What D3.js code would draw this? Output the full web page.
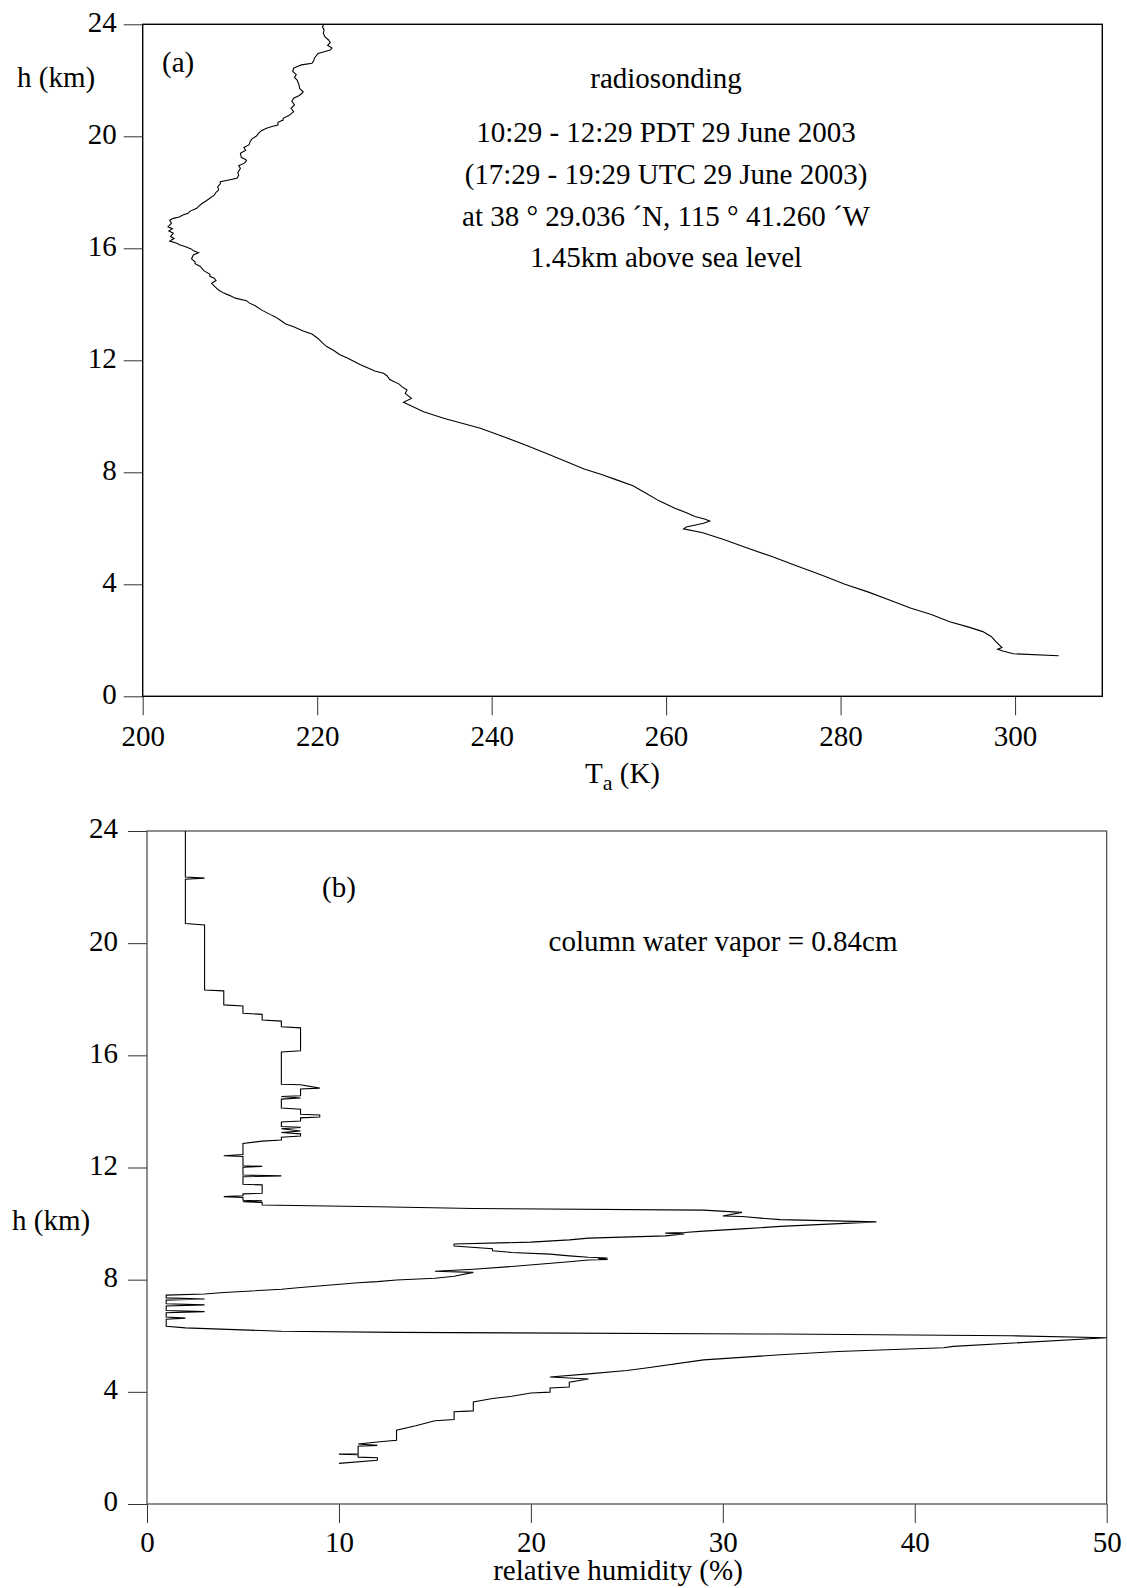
<!DOCTYPE html>
<html lang="en">
<head>
<meta charset="utf-8">
<title>Radiosonde profile, 29 June 2003</title>
<script src="https://d3js.org/d3.v7.min.js"></script>
<style>
  body { margin: 0; background: #fff; }
  svg { display: block; background: #fff; }
  text { font-family: "Liberation Serif", "Times New Roman", serif; fill: #000; }
</style>
</head>
<body>
<svg width="1127" height="1588"></svg>
<script>

// panel (a): air temperature (K) against height (km), bottom to top
var taK = [305.0, 299.8, 298.6, 298.0, 298.5, 297.8, 297.3, 296.3, 294.6, 292.5,
           290.4, 288.0, 285.6, 283.2, 280.5, 277.8, 275.0, 272.2, 269.3, 266.6,
           264.2, 262.0, 262.3, 264.3, 265.0, 264.4, 263.3, 262.4, 261.0, 259.2,
           257.6, 256.2, 254.4, 252.6, 250.6, 248.6, 246.3, 243.8, 241.3, 238.7,
           236.6, 234.5, 232.2,
           229.9, 230.8, 230.1, 230.3, 229.7, 229.4, 228.7, 228.3, 228.0, 227.6,
           226.6, 225.7, 224.9, 224.3, 223.4, 222.6, 221.9, 221.1, 220.6, 220.1,
           219.4, 218.4, 217.3, 216.4, 215.7, 215.2, 214.6, 213.6, 212.9, 212.2,
           211.9, 210.6, 210.0, 209.3, 208.7, 208.3, 207.9, 208.4, 208.2, 207.7,
           207.7, 207.0, 206.6, 206.0, 206.0, 205.6, 205.8, 206.4, 205.9, 205.6,
           205.0, 204.3, 203.9, 203.1, 203.6, 203.2, 203.5, 203.0, 203.4, 202.9,
           203.3, 203.1, 203.5, 204.2, 204.6, 205.2, 205.4, 206.2, 206.4, 206.8,
           207.3, 207.7, 208.2, 208.4, 208.7, 208.6, 208.9, 208.9, 210.0, 210.8,
           211.0, 210.9, 211.2, 211.0, 211.7, 211.9, 211.3, 211.2, 211.8, 211.6,
           212.2, 212.3, 212.5, 213.0, 213.3, 213.6, 214.2, 214.8, 215.5, 215.5,
           216.1, 216.1, 216.8, 217.3, 217.0, 217.4, 217.1, 217.3, 217.9, 218.2,
           218.4, 218.0, 217.9, 217.7, 217.4, 217.6, 217.2, 217.3, 217.8, 218.2,
           219.4, 219.6, 219.7, 220.1, 220.8, 221.5, 221.7, 221.2, 221.5, 221.3,
           220.9, 220.7, 220.8, 220.6, 220.8];
var taH = [1.45, 1.52, 1.62, 1.68, 1.74, 1.95, 2.13, 2.31, 2.48, 2.66,
           2.92, 3.15, 3.44, 3.72, 4.00, 4.33, 4.65, 4.98, 5.30, 5.60,
           5.84, 5.98, 6.05, 6.18, 6.26, 6.33, 6.42, 6.55, 6.72, 6.98,
           7.27, 7.52, 7.72, 7.92, 8.12, 8.38, 8.67, 8.98, 9.28, 9.57,
           9.75, 9.93, 10.16,
           10.50, 10.64, 10.82, 10.94, 11.06, 11.15, 11.25, 11.32, 11.45, 11.54,
           11.62, 11.74, 11.85, 11.95, 12.09, 12.20, 12.35, 12.49, 12.62, 12.78,
           12.94, 13.05, 13.20, 13.30, 13.45, 13.55, 13.64, 13.80, 13.95, 14.05,
           14.13, 14.22, 14.31, 14.40, 14.51, 14.62, 14.75, 14.85, 14.93, 15.00,
           15.07, 15.20, 15.35, 15.45, 15.52, 15.62, 15.76, 15.84, 15.90, 15.97,
           16.05, 16.12, 16.18, 16.26, 16.35, 16.42, 16.54, 16.62, 16.70, 16.77,
           16.90, 17.00, 17.07, 17.12, 17.19, 17.25, 17.32, 17.43, 17.50, 17.60,
           17.70, 17.79, 17.90, 18.00, 18.08, 18.20, 18.30, 18.38, 18.45, 18.50,
           18.60, 18.70, 18.86, 18.95, 19.05, 19.15, 19.25, 19.39, 19.50, 19.60,
           19.70, 19.80, 19.90, 20.00, 20.11, 20.20, 20.29, 20.35, 20.40, 20.50,
           20.58, 20.64, 20.75, 20.88, 21.00, 21.12, 21.25, 21.36, 21.45, 21.52,
           21.59, 21.70, 21.85, 22.01, 22.10, 22.20, 22.32, 22.43, 22.50, 22.55,
           22.61, 22.70, 22.80, 22.96, 23.02, 23.08, 23.15, 23.25, 23.35, 23.44,
           23.55, 23.68, 23.80, 23.91, 24.00];

// panel (b): relative humidity (%) against height (km), top to bottom
var rhPct = [2, 2, 3, 2, 2, 3, 3, 4, 4, 5, 5, 6, 6, 7, 7, 8, 8, 7, 7, 8,
             9, 8, 8, 7, 8, 7, 7, 8, 8, 9, 9, 8, 8, 7, 7, 8, 7, 8, 7, 8,
             8, 7, 7, 6, 5, 5, 4, 5, 5, 6, 5, 5, 7, 5, 5, 6, 6, 5, 5, 4,
             5, 5, 6, 5, 6, 6, 12, 17, 29, 31, 30, 31, 33, 38, 33, 31, 29, 28, 27, 28,
             27, 23, 22, 20, 16, 16, 18, 18, 19, 21, 22, 23, 24, 23.5, 24, 23, 22, 19, 17, 15,
             17, 16, 15, 13, 12, 11, 8, 7, 4, 3, 1, 1, 3, 1, 1, 3, 1, 1, 3, 1,
             1, 2, 1, 1, 2, 7, 13, 33, 45, 50, 42, 41.5, 36, 33, 29, 26, 25, 23, 21, 23,
             22, 22, 21, 21, 20, 19, 18, 17, 17, 16, 16, 15, 14, 13, 13, 12, 11, 12, 11, 11,
             10, 11, 11, 12, 12, 10];
var rhH = [24.0, 22.36, 22.32, 22.28, 20.70, 20.65, 18.33, 18.30, 17.80, 17.76, 17.50, 17.46, 17.26, 17.22, 17.02, 16.98, 16.16, 16.12, 14.97, 14.95,
           14.83, 14.80, 14.56, 14.53, 14.48, 14.44, 14.12, 14.08, 13.90, 13.87, 13.80, 13.77, 13.66, 13.62, 13.46, 13.43, 13.38, 13.30, 13.25, 13.20,
           13.12, 13.08, 12.98, 12.94, 12.86, 12.46, 12.42, 12.39, 12.06, 12.04, 12.01, 11.73, 11.70, 11.67, 11.40, 11.38, 11.08, 11.06, 10.99, 10.96,
           10.93, 10.83, 10.81, 10.78, 10.75, 10.66, 10.60, 10.54, 10.48, 10.40, 10.27, 10.25, 10.14, 10.06, 9.90, 9.81, 9.73, 9.68, 9.66, 9.63,
           9.56, 9.48, 9.42, 9.34, 9.27, 9.20, 9.10, 9.03, 8.97, 8.91, 8.85, 8.80, 8.77, 8.75, 8.72, 8.70, 8.64, 8.47, 8.37, 8.30,
           8.26, 8.12, 8.05, 7.99, 7.93, 7.89, 7.72, 7.66, 7.54, 7.49, 7.45, 7.35, 7.31, 7.27, 7.14, 7.10, 7.06, 6.90, 6.86, 6.82,
           6.67, 6.63, 6.59, 6.34, 6.28, 6.16, 6.12, 6.06, 6.00, 5.93, 5.62, 5.57, 5.44, 5.32, 5.14, 4.85, 4.76, 4.64, 4.53, 4.46,
           4.34, 4.17, 4.14, 3.99, 3.96, 3.84, 3.76, 3.64, 3.32, 3.29, 3.01, 2.97, 2.79, 2.63, 2.27, 2.21, 2.14, 2.09, 2.06, 1.79,
           1.78, 1.76, 1.67, 1.65, 1.56, 1.45];

var hTicks  = [0, 4, 8, 12, 16, 20, 24],
    taTicks = [200, 220, 240, 260, 280, 300],
    rhTicks = [0, 10, 20, 30, 40, 50];

var infoLines = ["radiosonding",
                 "10:29 - 12:29 PDT 29 June 2003",
                 "(17:29 - 19:29 UTC 29 June 2003)",
                 "at 38 \u00b0 29.036 \u00b4N, 115 \u00b0 41.260 \u00b4W",
                 "1.45km above sea level"];

var svg = d3.select("svg"),
    fontSize = "29px";

function styleAxis(sel, dy) {
  sel.select(".domain").remove();
  sel.selectAll(".tick line").attr("stroke", "#333").attr("stroke-width", 1);
  sel.selectAll(".tick text")
     .attr("font-size", fontSize)
     .attr("font-family", "'Liberation Serif', 'Times New Roman', serif")
     .attr("fill", "#000");
  if (dy) sel.selectAll(".tick text").attr("dy", dy);
}

// ---------- panel (a) ----------
var xA = d3.scaleLinear().domain([200, 310]).range([142.7, 1102.3]),
    yA = d3.scaleLinear().domain([0, 24]).range([696.3, 24.3]);

svg.append("g")
   .attr("transform", "translate(" + xA(200) + ",0)")
   .call(d3.axisLeft(yA).tickValues(hTicks).tickSize(19).tickPadding(7))
   .call(styleAxis, "0.24em");

svg.append("g")
   .attr("transform", "translate(0," + yA(0) + ")")
   .call(d3.axisBottom(xA).tickValues(taTicks).tickSize(19).tickPadding(10))
   .call(styleAxis);

svg.append("rect")
   .attr("x", xA(200)).attr("y", yA(24))
   .attr("width", xA(310) - xA(200)).attr("height", yA(0) - yA(24))
   .attr("fill", "none").attr("stroke", "#000").attr("stroke-width", 1.4);

svg.append("path")
   .datum(d3.range(taK.length))
   .attr("fill", "none").attr("stroke", "#000").attr("stroke-width", 1.1)
   .attr("d", d3.line().x(function(i) { return xA(taK[i]); }).y(function(i) { return yA(taH[i]); }));

svg.append("text").attr("x", 17).attr("y", 87).attr("font-size", fontSize).text("h (km)");
svg.append("text").attr("x", 162).attr("y", 72).attr("font-size", fontSize).text("(a)");

var infoY = [88, 142, 184, 226, 267];
svg.selectAll(".info")
   .data(infoLines)
   .enter().append("text")
   .attr("class", "info")
   .attr("x", 666)
   .attr("y", function(d, i) { return infoY[i]; })
   .attr("text-anchor", "middle")
   .attr("font-size", fontSize)
   .text(function(d) { return d; });

var ta = svg.append("text").attr("x", 585).attr("y", 783).attr("font-size", fontSize);
ta.append("tspan").text("T");
ta.append("tspan").attr("font-size", "22px").attr("dy", 7).text("a");
ta.append("tspan").attr("dy", -7).text(" (K)");

// ---------- panel (b) ----------
var xB = d3.scaleLinear().domain([0, 50]).range([147, 1106.7]),
    yB = d3.scaleLinear().domain([0, 24]).range([1504, 831]);

svg.append("defs").append("clipPath").attr("id", "clipB")
   .append("rect")
   .attr("x", xB(0)).attr("y", yB(24))
   .attr("width", xB(50) - xB(0)).attr("height", yB(0) - yB(24));

svg.append("g")
   .attr("transform", "translate(" + xB(0) + ",0)")
   .call(d3.axisLeft(yB).tickValues(hTicks).tickSize(19).tickPadding(10))
   .call(styleAxis, "0.24em");

svg.append("g")
   .attr("transform", "translate(0," + yB(0) + ")")
   .call(d3.axisBottom(xB).tickValues(rhTicks).tickSize(19).tickPadding(8.4))
   .call(styleAxis);

svg.append("rect")
   .attr("x", xB(0)).attr("y", yB(24))
   .attr("width", xB(50) - xB(0)).attr("height", yB(0) - yB(24))
   .attr("fill", "none").attr("stroke", "#444").attr("stroke-width", 1.2);

svg.append("path")
   .datum(d3.range(rhPct.length))
   .attr("clip-path", "url(#clipB)")
   .attr("fill", "none").attr("stroke", "#000").attr("stroke-width", 1.1)
   .attr("d", d3.line().x(function(i) { return xB(rhPct[i]); }).y(function(i) { return yB(rhH[i]); }));

svg.append("text").attr("x", 12).attr("y", 1230).attr("font-size", fontSize).text("h (km)");
svg.append("text").attr("x", 322).attr("y", 897).attr("font-size", fontSize).text("(b)");
svg.append("text").attr("x", 723).attr("y", 951).attr("text-anchor", "middle")
   .attr("font-size", fontSize).text("column water vapor = 0.84cm");
svg.append("text").attr("x", 618).attr("y", 1580).attr("text-anchor", "middle")
   .attr("font-size", fontSize).text("relative humidity (%)");

</script>
</body>
</html>
